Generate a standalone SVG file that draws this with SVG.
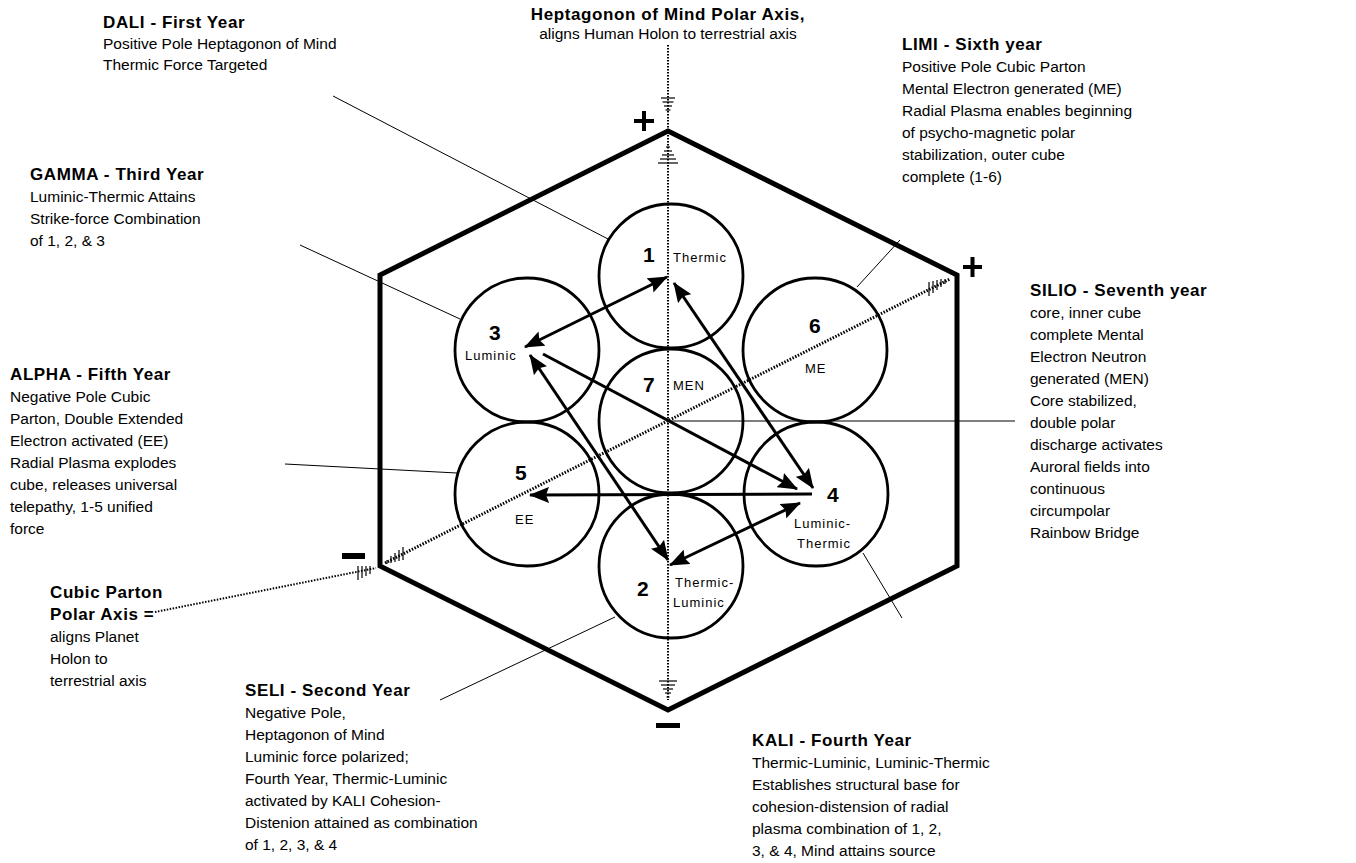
<svg xmlns="http://www.w3.org/2000/svg" width="1356" height="863" viewBox="0 0 1356 863">
<defs>
<style>
.t{font-family:"Liberation Sans",Arial,sans-serif;font-size:15.5px;fill:#000}
.b{font-family:"Liberation Sans",Arial,sans-serif;font-size:17px;font-weight:bold;letter-spacing:0.6px;fill:#000}
.s{font-family:"Liberation Sans",Arial,sans-serif;font-size:13px;letter-spacing:1px;fill:#000}
.n{font-family:"Liberation Sans",Arial,sans-serif;font-size:21px;font-weight:bold;fill:#000}
.c{fill:none;stroke:#000;stroke-width:2.8}
.ar{stroke:#000;stroke-width:3;fill:none}
.ld{stroke:#000;stroke-width:1;fill:none}
.ax{stroke:#000;stroke-width:2;stroke-dasharray:1.5 1.5;fill:none}
.dx{stroke:#000;stroke-width:3;stroke-dasharray:1.5 1.5;fill:none}
.h{stroke:#000;stroke-width:1.2}
.sg{stroke:#000;stroke-width:4;fill:none}
</style>
<marker id="ah" viewBox="0 0 20 16" refX="19" refY="8" markerWidth="20" markerHeight="16" markerUnits="userSpaceOnUse" orient="auto-start-reverse">
<path d="M0,0 L20,8 L0,16 L3,8 z" fill="#000"/>
</marker>
</defs>
<rect width="1356" height="863" fill="#fff"/>

<g id="hexagon">
<polygon points="668,131 957,275 957,566 668,710 380,566 380,275" fill="none" stroke="#000" stroke-width="5" stroke-linejoin="miter"/>
</g>

<g id="axes">
<line class="ax" x1="668" y1="45" x2="668" y2="700"/>
<g class="h">
<line x1="661" y1="98" x2="675" y2="98"/><line x1="662.5" y1="102" x2="673.5" y2="102"/><line x1="664" y1="106" x2="672" y2="106"/><line x1="665.5" y1="110" x2="670.5" y2="110"/>
<line x1="666" y1="147" x2="670" y2="147"/><line x1="664" y1="151" x2="672" y2="151"/><line x1="662" y1="155" x2="674" y2="155"/><line x1="660" y1="159" x2="676" y2="159"/><line x1="658" y1="163" x2="678" y2="163"/>
<line x1="659" y1="681" x2="677" y2="681"/><line x1="661" y1="685" x2="675" y2="685"/><line x1="663" y1="689" x2="673" y2="689"/><line x1="665" y1="693" x2="671" y2="693"/><line x1="666.5" y1="697" x2="669.5" y2="697"/>
</g>
<line class="dx" x1="385" y1="563" x2="950" y2="279"/>
<line class="ax" x1="155" y1="612" x2="376" y2="568"/>
<g class="h">
<line x1="387" y1="560" x2="387" y2="564"/><line x1="391" y1="556" x2="391" y2="563"/><line x1="395" y1="553" x2="395" y2="562"/><line x1="399" y1="550" x2="399" y2="561"/><line x1="403" y1="547" x2="403" y2="560"/>
<line x1="929" y1="282" x2="929" y2="296"/><line x1="933" y1="281" x2="933" y2="293"/><line x1="937" y1="280" x2="937" y2="290"/><line x1="941" y1="279" x2="941" y2="287"/><line x1="945" y1="279" x2="945" y2="284"/>
<line x1="358" y1="566" x2="358" y2="580"/><line x1="362" y1="566" x2="362" y2="578"/><line x1="366" y1="566" x2="366" y2="576"/><line x1="370" y1="566" x2="370" y2="574"/>
</g>
</g>

<g id="signs">
<path class="sg" d="M634,121 H654 M644,111 V131"/>
<path class="sg" d="M963,267 H982 M972.5,257 V277"/>
<rect x="342" y="553" width="23" height="6" fill="#000"/>
<rect x="656" y="723" width="24" height="5" fill="#000"/>
</g>

<g id="circle1"><circle class="c" cx="671" cy="276" r="72"/><text class="n" x="643" y="262">1</text><text class="s" x="673" y="262">Thermic</text></g>
<g id="circle7"><circle class="c" cx="671" cy="421" r="72"/><text class="n" x="643" y="392">7</text><text class="s" x="673" y="390">MEN</text></g>
<g id="circle2"><circle class="c" cx="671" cy="566" r="72"/><text class="n" x="637" y="596">2</text><text class="s" x="675" y="587">Thermic-</text><text class="s" x="673" y="607">Luminic</text></g>
<g id="circle3"><circle class="c" cx="527" cy="350" r="72"/><text class="n" x="489" y="340">3</text><text class="s" x="465" y="360">Luminic</text></g>
<g id="circle6"><circle class="c" cx="815" cy="350" r="72"/><text class="n" x="809" y="333">6</text><text class="s" x="805" y="373">ME</text></g>
<g id="circle5"><circle class="c" cx="527" cy="494" r="72"/><text class="n" x="515" y="480">5</text><text class="s" x="515" y="524">EE</text></g>
<g id="circle4"><circle class="c" cx="816" cy="494" r="72"/><text class="n" x="827" y="502">4</text><text class="s" x="794" y="528">Luminic-</text><text class="s" x="797" y="548">Thermic</text></g>

<g id="connectors">
<line class="ar" x1="525" y1="347" x2="667" y2="277" marker-start="url(#ah)" marker-end="url(#ah)"/>
<line class="ar" x1="674" y1="283" x2="813" y2="488" marker-start="url(#ah)" marker-end="url(#ah)"/>
<line class="ar" x1="543" y1="354" x2="797" y2="489" marker-end="url(#ah)"/>
<line class="ar" x1="530" y1="355" x2="668" y2="560" marker-start="url(#ah)" marker-end="url(#ah)"/>
<line class="ar" x1="670" y1="565" x2="800" y2="503" marker-start="url(#ah)" marker-end="url(#ah)"/>
<line class="ar" x1="812" y1="494" x2="530" y2="495" marker-end="url(#ah)"/>
<line class="ld" x1="333" y1="96" x2="608" y2="239"/>
<line class="ld" x1="300" y1="245" x2="460" y2="319"/>
<line class="ld" x1="900" y1="240" x2="857" y2="287"/>
<line class="ld" x1="671" y1="421" x2="1015" y2="421"/>
<line class="ld" x1="285" y1="464" x2="457" y2="473"/>
<line class="ld" x1="440" y1="700" x2="615" y2="617"/>
<line class="ld" x1="863" y1="553" x2="902" y2="618"/>
</g>

<g id="label-top">
<text class="b" x="668" y="20" text-anchor="middle">Heptagonon of Mind Polar Axis,</text>
<text class="t" x="668" y="39" text-anchor="middle">aligns Human Holon to terrestrial axis</text>
</g>
<g id="label-dali">
<text class="b" x="103" y="28">DALI - First Year</text>
<text class="t" x="103" y="49">Positive Pole Heptagonon of Mind</text>
<text class="t" x="103" y="70">Thermic Force Targeted</text>
</g>
<g id="label-limi">
<text class="b" x="902" y="50">LIMI - Sixth year</text>
<text class="t" x="902" y="72">Positive Pole Cubic Parton</text>
<text class="t" x="902" y="94">Mental Electron generated (ME)</text>
<text class="t" x="902" y="116">Radial Plasma enables beginning</text>
<text class="t" x="902" y="138">of psycho-magnetic polar</text>
<text class="t" x="902" y="160">stabilization, outer cube</text>
<text class="t" x="902" y="182">complete (1-6)</text>
</g>
<g id="label-gamma">
<text class="b" x="30" y="180">GAMMA - Third Year</text>
<text class="t" x="30" y="202">Luminic-Thermic Attains</text>
<text class="t" x="30" y="224">Strike-force Combination</text>
<text class="t" x="30" y="246">of 1, 2, &amp; 3</text>
</g>
<g id="label-alpha">
<text class="b" x="10" y="380">ALPHA - Fifth Year</text>
<text class="t" x="10" y="402">Negative Pole Cubic</text>
<text class="t" x="10" y="424">Parton, Double Extended</text>
<text class="t" x="10" y="446">Electron activated (EE)</text>
<text class="t" x="10" y="468">Radial Plasma explodes</text>
<text class="t" x="10" y="490">cube, releases universal</text>
<text class="t" x="10" y="512">telepathy, 1-5 unified</text>
<text class="t" x="10" y="534">force</text>
</g>
<g id="label-silio">
<text class="b" x="1030" y="296">SILIO - Seventh year</text>
<text class="t" x="1030" y="318">core, inner cube</text>
<text class="t" x="1030" y="340">complete Mental</text>
<text class="t" x="1030" y="362">Electron Neutron</text>
<text class="t" x="1030" y="384">generated (MEN)</text>
<text class="t" x="1030" y="406">Core stabilized,</text>
<text class="t" x="1030" y="428">double polar</text>
<text class="t" x="1030" y="450">discharge activates</text>
<text class="t" x="1030" y="472">Auroral fields into</text>
<text class="t" x="1030" y="494">continuous</text>
<text class="t" x="1030" y="516">circumpolar</text>
<text class="t" x="1030" y="538">Rainbow Bridge</text>
</g>
<g id="label-cubic">
<text class="b" x="50" y="598">Cubic Parton</text>
<text class="b" x="50" y="620">Polar Axis =</text>
<text class="t" x="50" y="642">aligns Planet</text>
<text class="t" x="50" y="664">Holon to</text>
<text class="t" x="50" y="686">terrestrial axis</text>
</g>
<g id="label-seli">
<text class="b" x="245" y="696">SELI - Second Year</text>
<text class="t" x="245" y="718">Negative Pole,</text>
<text class="t" x="245" y="740">Heptagonon of Mind</text>
<text class="t" x="245" y="762">Luminic force polarized;</text>
<text class="t" x="245" y="784">Fourth Year, Thermic-Luminic</text>
<text class="t" x="245" y="806">activated by KALI Cohesion-</text>
<text class="t" x="245" y="828">Distenion attained as combination</text>
<text class="t" x="245" y="850">of 1, 2, 3, &amp; 4</text>
</g>
<g id="label-kali">
<text class="b" x="752" y="746">KALI - Fourth Year</text>
<text class="t" x="752" y="768">Thermic-Luminic, Luminic-Thermic</text>
<text class="t" x="752" y="790">Establishes structural base for</text>
<text class="t" x="752" y="812">cohesion-distension of radial</text>
<text class="t" x="752" y="834">plasma combination of 1, 2,</text>
<text class="t" x="752" y="856">3, &amp; 4, Mind attains source</text>
</g>
</svg>
